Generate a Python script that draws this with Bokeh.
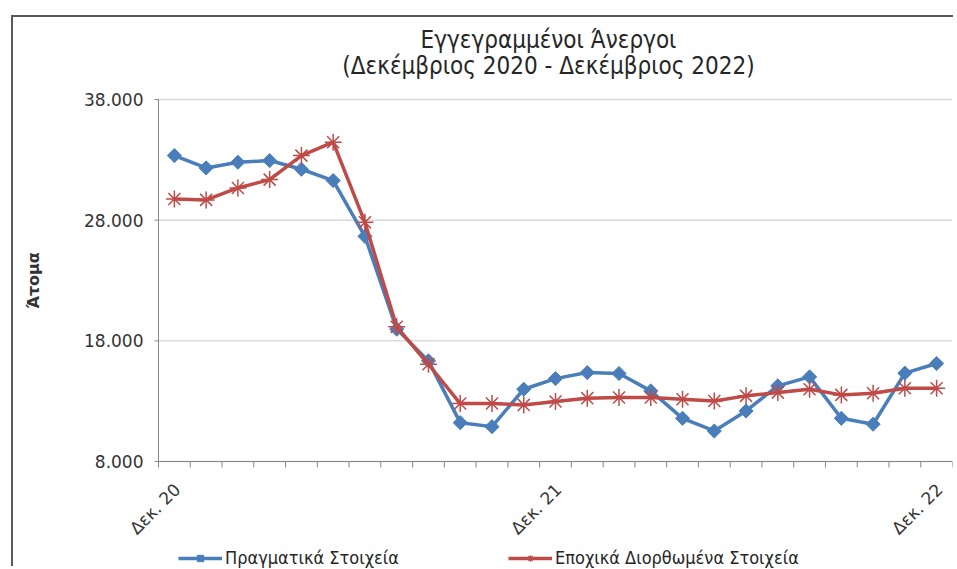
import numpy as np
from bokeh.plotting import figure
from bokeh.models import Legend, LegendItem
from bokeh.core.properties import value
from bokeh.embed import file_html
from bokeh.resources import INLINE

# ---- data ----
months = ["Δεκ. 20", "Ιαν. 21", "Φεβ. 21", "Μαρ. 21", "Απρ. 21", "Μάι. 21", "Ιουν. 21",
          "Ιουλ. 21", "Αυγ. 21", "Σεπ. 21", "Οκτ. 21", "Νοε. 21", "Δεκ. 21",
          "Ιαν. 22", "Φεβ. 22", "Μαρ. 22", "Απρ. 22", "Μάι. 22", "Ιουν. 22",
          "Ιουλ. 22", "Αυγ. 22", "Σεπ. 22", "Οκτ. 22", "Νοε. 22", "Δεκ. 22"]
actual = [33350, 32330, 32800, 32940, 32220, 31280, 26660, 18970, 16340, 11220, 10890,
          13990, 14870, 15370, 15290, 13850, 11580, 10530, 12190, 14270, 15010, 11580,
          11090, 15320, 16120]
seasonal = [29760, 29680, 30670, 31360, 33350, 34460, 27820, 19160, 16060, 12800, 12800,
            12690, 12970, 13250, 13300, 13300, 13160, 13020, 13440, 13710, 13990, 13520,
            13660, 14070, 14070]
y_ticks = [8000, 18000, 28000, 38000]
y_tick_labels = ["8.000", "18.000", "28.000", "38.000"]
y_title = "Άτομα"
title_lines = ["Εγγεγραμμένοι Άνεργοι", "(Δεκέμβριος 2020 - Δεκέμβριος 2022)"]
legend_labels = ["Πραγματικά Στοιχεία", "Εποχικά Διορθωμένα Στοιχεία"]
label_every = 12

n = len(months)
x = list(range(n))
BLUE = "#4A7EBB"
RED = "#BE4B48"
GREY = "#868686"
TXT = "#333333"
FONT = value("DejaVu Sans")
FONT_C = value("DejaVu Sans Condensed")

# ---- layout (pixels) ----
W, H = 942, 551
PLOT_L, RIGHT = 145, 3                   # left edge of the plotting area, right border
AX_TOP_PX, AX_BOT_PX = 82, 444           # where the top / bottom value ticks sit
ppc = (W - RIGHT - PLOT_L) / n           # px per category
k = (AX_BOT_PX - AX_TOP_PX) / (y_ticks[-1] - y_ticks[0])   # px per unit
x_lo, x_hi = -0.5, n - 0.5
y_end = y_ticks[-1] + AX_TOP_PX / k
y_start = y_ticks[0] - (H - AX_BOT_PX) / k

p = figure(width=W, height=H, output_backend="svg", toolbar_location=None,
           x_range=(x_lo - PLOT_L / ppc, x_hi), y_range=(y_start, y_end),
           x_axis_location=None, y_axis_location=None, min_border=0,
           min_border_right=RIGHT, title=None)
p.styles = {"margin-left": "11px", "margin-top": "15px",
            "border-top": "2px solid #595959", "border-left": "2px solid #595959"}
p.outline_line_color = None
p.background_fill_color = "white"
p.border_fill_color = "white"
p.xgrid.grid_line_color = None
p.ygrid.grid_line_color = None

# value gridlines
p.segment(x0=[x_lo] * len(y_ticks), x1=[x_hi] * len(y_ticks), y0=y_ticks, y1=y_ticks,
          line_color="#D9D9D9", line_width=1.5)

# value axis
p.segment(x0=[x_lo], x1=[x_lo], y0=[y_ticks[0]], y1=[y_ticks[-1]], line_color=GREY, line_width=1)
p.ray(x=[x_lo] * len(y_ticks), y=y_ticks, length=4, length_units="screen", angle=np.pi,
      line_color=GREY, line_width=1)
p.text(x=[x_lo] * len(y_ticks), y=y_ticks, text=y_tick_labels, x_offset=-15,
       text_align="right", text_baseline="middle", text_font=FONT,
       text_font_size="17px", text_color=TXT)
p.text(x=[x_lo], y=[(y_ticks[0] + y_ticks[-1]) / 2], text=[y_title], angle=np.pi / 2,
       x_offset=-125, text_align="center", text_baseline="middle", text_font=FONT,
       text_font_size="16px", text_font_style="bold", text_color=TXT)

# category axis
p.segment(x0=[x_lo], x1=[x_hi], y0=[y_ticks[0]], y1=[y_ticks[0]], line_color=GREY, line_width=1)
boundaries = [i - 0.5 for i in range(n + 1)]
p.ray(x=boundaries, y=[y_ticks[0]] * len(boundaries), length=6, length_units="screen",
      angle=-np.pi / 2, line_color=GREY, line_width=1)
label_pos = x[::label_every]
p.text(x=label_pos, y=[y_ticks[0]] * len(label_pos), text=[months[i] for i in label_pos],
       angle=np.pi / 4, text_align="right", text_baseline="middle",
       x_offset=3, y_offset=25, text_font=FONT, text_font_size="17px", text_color=TXT)

# title
xc = (n - 1) / 2
p.text(x=[xc], y=[y_ticks[-1]], text=[title_lines[0]], text_align="center",
       text_baseline="alphabetic", x_offset=-7, y_offset=-60,
       text_font=FONT_C, text_font_size="24px", text_color="#262626")
p.text(x=[xc], y=[y_ticks[-1]], text=[title_lines[1]], text_align="center",
       text_baseline="alphabetic", x_offset=-7, y_offset=-34,
       text_font=FONT_C, text_font_size="24px", text_color="#262626")

# series
l1 = p.line(x, actual, line_color=BLUE, line_width=3.5)
s1 = p.scatter(x, actual, marker="square", angle=np.pi / 4, size=10,
               fill_color=BLUE, line_color=BLUE)
l2 = p.line(x, seasonal, line_color=RED, line_width=3.5)
s2 = p.scatter(x, seasonal, marker="asterisk", size=17, line_color=RED, line_width=1.5)

def make_legend(label, rends, loc):
    return Legend(items=[LegendItem(label=label, renderers=rends)], location=loc,
                  orientation="horizontal", padding=0, margin=0, border_line_color=None,
                  background_fill_alpha=0, glyph_width=44, glyph_height=16,
                  label_standoff=3, label_text_font="DejaVu Sans Condensed",
                  label_text_font_size="18px", label_text_color="#262626")

p.add_layout(make_legend(legend_labels[0], [l1, s1], (165, 0)), "center")
p.add_layout(make_legend(legend_labels[1], [l2, s2], (495, 0)), "center")

open("out.html", "w").write(file_html(p, INLINE))
